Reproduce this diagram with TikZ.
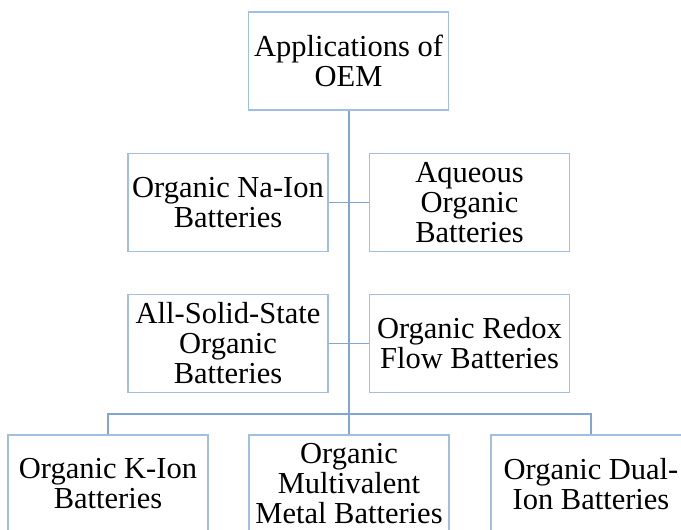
\documentclass[tikz,border=0pt]{standalone}
\usepackage{fontspec}
\setmainfont{Liberation Serif}
\definecolor{boxblue}{RGB}{160,191,226}
\definecolor{linkblue}{RGB}{128,166,210}
\tikzset{
  appbox/.style={
      draw=boxblue, line width=1.3pt, fill=white,
      minimum width=200pt, minimum height=98pt,
      inner sep=0pt, align=center,
      font=\fontsize{30.5pt}{30pt}\selectfont
    },
  link/.style={draw=linkblue, line width=1.5pt}
}

\begin{document}
\begin{tikzpicture}[x=1pt, y=-1pt]
		\useasboundingbox (0,0) rectangle (681,530);
		\clip (0,0) rectangle (681,530);

		% Root and the two middle rows
		\node[appbox] (oem) at (348.5,61) {Applications of\\OEM};
		\node[appbox] (naion) at (228,202.5) {Organic Na-Ion\\Batteries};
		\node[appbox] (aqueous) at (469.5,202.5) {Aqueous\\Organic\\Batteries};
		\node[appbox] (solid) at (228,343.5) {All-Solid-State\\Organic\\Batteries};
		\node[appbox] (redox) at (469.5,343.5) {Organic Redox\\Flow Batteries};

		% Bottom row
		\node[appbox] (kion) at (108,484) {Organic K-Ion\\Batteries};
		\node[appbox] (multi) at (349,484) {Organic\\Multivalent\\Metal Batteries};
		\node[appbox] (dual) at (591,484) {Organic Dual-\\Ion Batteries};

		% Connectors
		\coordinate (bus) at (349,414);
		\draw[link] (oem.south -| bus) -- (bus);
		\draw[link] (naion.east) -- (aqueous.west);
		\draw[link] (solid.east) -- (redox.west);
		\draw[link] (bus) -| (kion.north);
		\draw[link] (bus) -| (dual.north);
		\draw[link] (bus) -- (multi.north -| bus);
	\end{tikzpicture}
\end{document}
